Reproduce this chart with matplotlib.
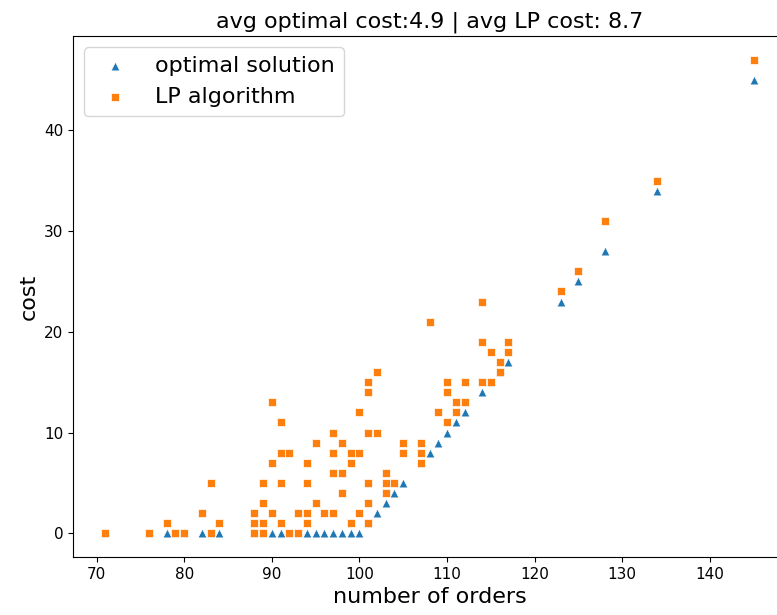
import numpy as np
import matplotlib
matplotlib.use("Agg")
import matplotlib.pyplot as plt

# optimal solution (visible triangles)
opt_x = [71, 76, 78, 79, 80, 82, 83, 84, 88, 89, 90, 91, 92, 93, 94, 95, 96, 97, 98, 99, 100,
         101, 102, 103, 104, 105, 107, 108, 109, 110, 111, 112, 114, 115, 116, 117,
         123, 125, 128, 134, 145]
opt_y = [0, 0, 0, 0, 0, 0, 0, 0, 0, 0, 0, 0, 0, 0, 0, 0, 0, 0, 0, 0, 0,
         1, 2, 3, 4, 5, 7, 8, 9, 10, 11, 12, 14, 15, 16, 17,
         23, 25, 28, 34, 45]

# LP algorithm (squares)
lp_x = [71, 76, 78, 79, 80, 82, 83, 83, 84,
        88, 88, 88, 89, 89, 89, 89, 90, 90, 90, 91, 91, 91, 91,
        92, 92, 93, 93, 94, 94, 94, 94, 95, 95, 96, 97, 97, 97, 97,
        98, 98, 98, 99, 99, 99, 100, 100, 100,
        101, 101, 101, 101, 101, 101, 102, 102, 103, 103, 103, 104,
        105, 105, 107, 107, 107, 108, 109, 110, 110, 110, 111, 111,
        112, 112, 114, 114, 114, 115, 115, 116, 116, 117, 117,
        123, 125, 128, 134, 145]
lp_y = [0, 0, 1, 0, 0, 2, 0, 5, 1,
        0, 1, 2, 0, 1, 3, 5, 2, 7, 13, 1, 5, 8, 11,
        0, 8, 0, 2, 1, 2, 5, 7, 3, 9, 2, 2, 6, 8, 10,
        4, 6, 9, 1, 7, 8, 2, 8, 12,
        1, 3, 5, 10, 14, 15, 10, 16, 4, 5, 6, 5,
        8, 9, 7, 8, 9, 21, 12, 11, 14, 15, 12, 13,
        13, 15, 15, 19, 23, 15, 18, 16, 17, 18, 19,
        24, 26, 31, 35, 47]

avg_opt = 4.9
avg_lp = 8.7

fig = plt.figure(figsize=(7.77, 6.15), dpi=100)
ax = fig.add_axes([73/777, 58/615, 713/777, 521/615])

ax.scatter(opt_x, opt_y, marker="^", color="#1f77b4", edgecolor="white",
           linewidth=0.5, s=40, label="optimal solution")
ax.scatter(lp_x, lp_y, marker="s", color="#ff7f0e", edgecolor="white",
           linewidth=0.5, s=40, label="LP algorithm")

ax.set_xlabel("number of orders", fontsize=16)
ax.set_ylabel("cost", fontsize=16)
ax.set_title(f"avg optimal cost:{avg_opt} | avg LP cost: {avg_lp}", fontsize=16)
ax.tick_params(labelsize=11)
ax.legend(loc="upper left", fontsize=16)

fig.savefig("out.png", dpi=100)
